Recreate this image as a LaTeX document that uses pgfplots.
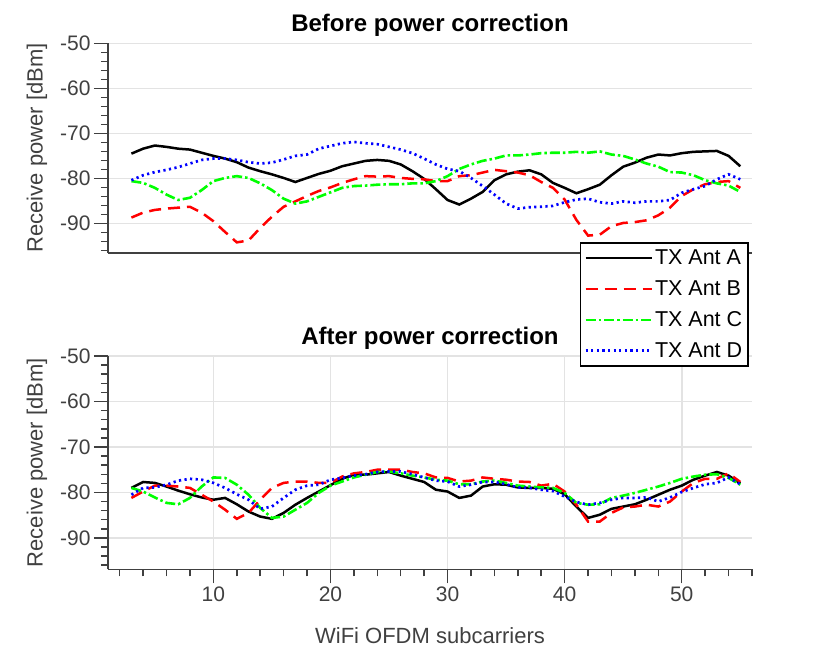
\documentclass[border=0pt]{standalone}
\usepackage{fontspec}
\setmainfont{Liberation Sans}
\usepackage{pgfplots}
\pgfplotsset{compat=1.18}
\usepackage{pgfplotstable}

\definecolor{axgray}{HTML}{404040}
\definecolor{gridgray}{HTML}{E3E3E3}

% receive power per subcarrier, columns: subcarrier, TX Ant A..D
\pgfplotstableread{
x a b c d
3 -74.5 -88.7 -80.6 -80.4
4 -73.4 -87.6 -81.0 -79.3
5 -72.7 -87.0 -82.1 -78.6
6 -73.0 -86.7 -83.6 -78.1
7 -73.4 -86.5 -84.8 -77.5
8 -73.6 -86.3 -84.3 -76.7
9 -74.3 -87.6 -82.6 -75.9
10 -75.0 -89.5 -80.6 -75.6
11 -75.6 -91.9 -79.9 -75.6
12 -76.4 -94.2 -79.5 -75.9
13 -77.6 -93.8 -79.9 -76.4
14 -78.4 -91.0 -81.1 -76.7
15 -79.1 -88.5 -82.6 -76.5
16 -79.9 -86.3 -84.5 -75.8
17 -80.8 -85.1 -85.6 -75.0
18 -79.9 -83.9 -85.1 -74.7
19 -79.0 -82.8 -84.1 -73.4
20 -78.3 -82.0 -83.1 -72.8
21 -77.3 -81.0 -82.1 -72.2
22 -76.7 -80.2 -81.7 -71.9
23 -76.1 -79.5 -81.6 -72.2
24 -75.9 -79.6 -81.4 -72.4
25 -76.1 -79.5 -81.3 -73.0
26 -76.9 -79.9 -81.3 -73.6
27 -78.4 -80.1 -81.1 -74.4
28 -80.1 -80.2 -81.1 -75.6
29 -82.4 -80.6 -80.6 -76.9
30 -84.8 -80.6 -79.5 -77.9
31 -85.8 -79.5 -77.9 -78.4
32 -84.5 -79.3 -76.9 -79.9
33 -83.0 -78.7 -76.1 -81.7
34 -80.4 -78.1 -75.6 -83.6
35 -79.1 -78.4 -74.9 -85.6
36 -78.5 -78.7 -74.9 -86.7
37 -78.2 -79.3 -74.7 -86.4
38 -79.1 -80.8 -74.4 -86.3
39 -81.0 -82.1 -74.3 -86.1
40 -82.1 -84.7 -74.3 -85.3
41 -83.3 -89.2 -74.1 -84.7
42 -82.4 -92.7 -74.3 -84.5
43 -81.4 -92.5 -74.0 -85.3
44 -79.3 -90.6 -74.7 -85.6
45 -77.4 -89.9 -75.0 -85.1
46 -76.5 -89.7 -75.8 -85.4
47 -75.4 -89.3 -76.7 -85.1
48 -74.7 -88.2 -77.4 -85.1
49 -74.9 -86.5 -78.6 -84.8
50 -74.4 -83.9 -78.7 -83.2
51 -74.1 -82.4 -79.3 -82.4
52 -74.0 -81.3 -80.4 -81.7
53 -73.9 -80.8 -81.1 -80.2
54 -75.0 -80.6 -81.6 -79.1
55 -77.3 -82.1 -83.0 -80.2
}\before

\pgfplotstableread{
x a b c d
3 -79.0 -81.2 -79.0 -80.5
4 -77.7 -79.8 -79.8 -79.0
5 -77.9 -78.5 -81.1 -78.9
6 -78.7 -78.5 -82.3 -78.3
7 -79.6 -78.7 -82.6 -77.4
8 -80.4 -79.0 -81.2 -77.0
9 -81.1 -80.5 -78.7 -77.2
10 -81.6 -82.0 -76.7 -77.9
11 -81.2 -83.8 -76.8 -79.0
12 -82.6 -85.8 -78.3 -80.4
13 -84.2 -84.5 -80.5 -81.6
14 -85.3 -81.6 -83.4 -83.6
15 -85.8 -79.0 -85.6 -83.1
16 -84.5 -77.9 -85.3 -81.2
17 -82.7 -77.6 -83.8 -79.4
18 -81.2 -77.6 -82.3 -78.5
19 -79.8 -77.9 -80.1 -78.3
20 -78.4 -77.9 -78.5 -77.2
21 -77.0 -76.5 -77.6 -76.8
22 -76.1 -75.8 -76.7 -76.3
23 -76.1 -75.5 -76.1 -76.0
24 -75.8 -75.0 -75.5 -75.5
25 -75.5 -75.0 -75.4 -75.4
26 -76.3 -75.0 -75.8 -75.4
27 -77.0 -75.5 -76.3 -76.0
28 -77.7 -75.8 -76.7 -76.7
29 -79.4 -76.7 -77.2 -77.4
30 -79.8 -76.8 -77.4 -77.6
31 -81.2 -77.6 -78.2 -78.7
32 -80.7 -77.4 -78.2 -78.3
33 -78.7 -76.7 -77.6 -77.7
34 -78.2 -77.0 -77.4 -77.7
35 -78.3 -77.2 -77.9 -78.2
36 -78.9 -77.6 -78.5 -78.9
37 -79.0 -77.7 -78.7 -79.0
38 -79.0 -78.5 -78.9 -79.4
39 -79.2 -78.1 -79.0 -79.7
40 -80.4 -79.8 -80.1 -80.9
41 -83.1 -82.7 -82.3 -82.1
42 -85.6 -86.4 -82.7 -82.7
43 -84.9 -86.4 -82.6 -82.3
44 -83.6 -84.5 -81.2 -81.6
45 -83.1 -83.3 -80.7 -81.2
46 -82.6 -83.1 -80.1 -81.2
47 -81.6 -82.7 -79.4 -81.1
48 -80.5 -83.1 -78.7 -82.0
49 -79.4 -82.0 -77.9 -81.1
50 -78.5 -79.8 -77.0 -79.9
51 -77.2 -77.9 -76.5 -79.0
52 -76.3 -77.0 -76.1 -78.2
53 -75.5 -77.0 -76.0 -77.9
54 -76.3 -75.8 -76.8 -76.7
55 -78.0 -77.7 -78.3 -78.2
}\after

\pgfplotsset{
  panel/.style={
    scale only axis, width=644pt,
    xmin=1, xmax=56,
    axis x line*=bottom, axis y line*=left,
    axis line style={axgray, line width=1.6pt},
    every tick/.style={axgray, line width=1.5pt},
    tick align=outside, major tick length=14pt, minor tick length=7pt,
    ytick={-90,-80,...,-50}, minor ytick={-96,-94,...,-52},
    ticklabel style={font=\fontsize{21}{25}\selectfont, text=axgray},
    /pgf/number format/assume math mode=true,
    ylabel={Receive power [dBm]},
    ylabel style={font=\fontsize{22}{26}\selectfont, text=axgray,
      at={(axis description cs:-0.1102,0.5)}, anchor=center},
    title style={font=\bfseries\fontsize{24}{28}\selectfont,
      at={(0.5,1)}, anchor=south, yshift=-3pt},
    grid style={gridgray, line width=1.6pt},
    ymajorgrids,
  },
  serA/.style={black, line width=2.5pt},
  serB/.style={red, line width=2.5pt, dash pattern=on 12pt off 7pt},
  serC/.style={green, line width=2.6pt, dash pattern=on 10pt off 3pt on 2.5pt off 3pt},
  serD/.style={blue, line width=2.7pt, dash pattern=on 2.2pt off 3.4pt},
}

\begin{document}
\begin{tikzpicture}
\begin{axis}[panel,
    at={(108pt,-43.3pt)}, anchor=north west,
    height=209.4pt, ymin=-96.5, ymax=-50,
    xtick=\empty,
    title={Before power correction},
  ]
  \addplot[serA] table[x=x, y=a] {\before};
  \addplot[serB] table[x=x, y=b] {\before};
  \addplot[serC] table[x=x, y=c] {\before};
  \addplot[serD] table[x=x, y=d] {\before};
\end{axis}

\begin{axis}[panel,
    at={(108pt,-356pt)}, anchor=north west,
    height=213.3pt, ymin=-96.9, ymax=-50,
    xtick={10,20,...,50}, minor xtick={2,4,...,56},
    xmajorgrids,
    title={After power correction},
    xlabel={WiFi OFDM subcarriers},
    xlabel style={font=\fontsize{22}{26}\selectfont, text=axgray,
      at={(axis description cs:0.5,-0.31)}, anchor=center},
    legend style={at={(0.9953,1.533)}, anchor=north east,
      draw=black, line width=1.5pt, fill=white,
      font=\fontsize{21.5}{25}\selectfont,
      inner xsep=4pt, inner ysep=5pt, row sep=10.5pt,
      cells={anchor=west}},
    legend image code/.code={\draw[#1] (0pt,0pt) -- (66pt,0pt);},
  ]
  \addplot[serA] table[x=x, y=a] {\after};
  \addplot[serB] table[x=x, y=b] {\after};
  \addplot[serC] table[x=x, y=c] {\after};
  \addplot[serD] table[x=x, y=d] {\after};
  \legend{TX Ant A, TX Ant B, TX Ant C, TX Ant D}
\end{axis}
\pgfresetboundingbox
\path (0pt,0pt) rectangle (830pt,-657pt);
\end{tikzpicture}
\end{document}
